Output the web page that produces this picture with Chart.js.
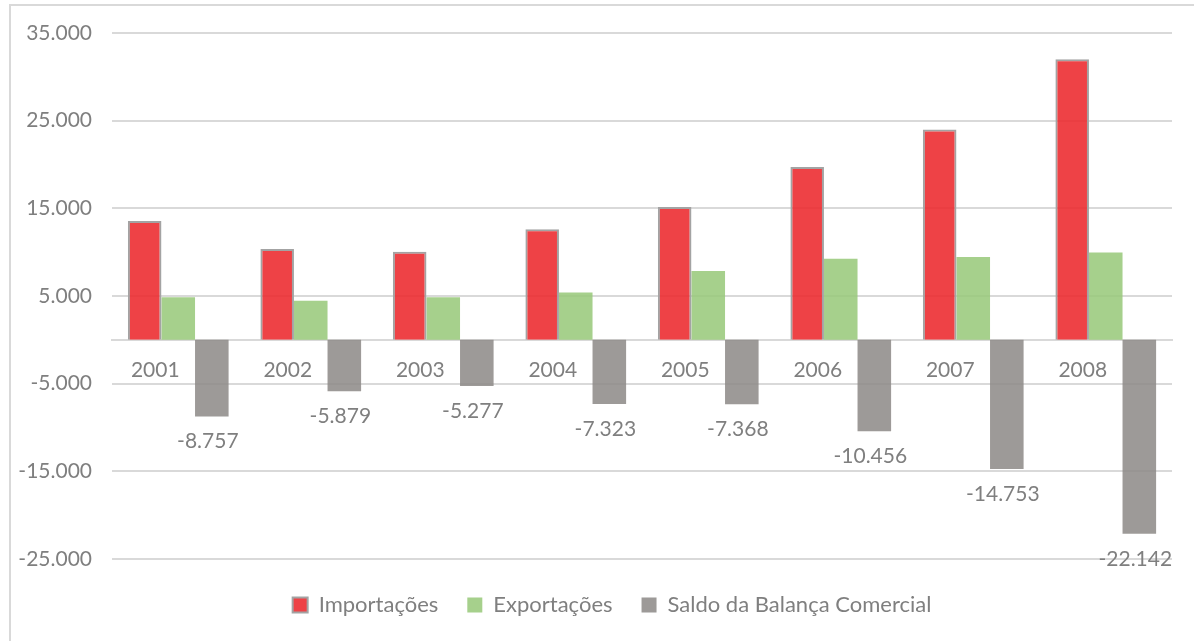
<!DOCTYPE html>
<html>
<head>
<meta charset="utf-8">
<script src="https://cdn.jsdelivr.net/npm/chart.js@4"></script>
<style>
html,body{margin:0;padding:0;background:#fff;}
#wrap{position:relative;width:1194px;height:641px;overflow:hidden;}
#frame{position:absolute;left:9px;top:4px;width:1300px;height:800px;border:2px solid #d9d9d9;box-sizing:border-box;}
#c{position:absolute;left:0;top:0;}
</style>
</head>
<body>
<div id="wrap">
  <div id="frame"></div>
  <canvas id="c" width="1194" height="641"></canvas>
</div>
<script>
var anos = ['2001','2002','2003','2004','2005','2006','2007','2008'];
var importacoes = [13550, 10350, 10050, 12600, 15150, 19700, 24000, 32000];
var exportacoes = [4850, 4450, 4850, 5400, 7850, 9250, 9450, 9950];
var saldo = [-8757, -5879, -5277, -7323, -7368, -10456, -14753, -22142];
var yTicks = [-25000, -15000, -5000, 5000, 15000, 25000, 35000];

var FONT = 'Lato, "Open Sans", sans-serif';
var TXT = '#7f7f7f';

function fmt(v){
    var neg = v < 0;
    var s = String(Math.abs(Math.round(v)));
    s = s.replace(/\B(?=(\d{3})+(?!\d))/g, '.');
    return (neg ? '-' : '') + s;
}

// rotulos do saldo abaixo das barras
var saldoLabels = {
    id: 'saldoLabels',
    afterDatasetsDraw: function(chart){
        var meta = chart.getDatasetMeta(2);
        var ctx = chart.ctx;
        ctx.save();
        ctx.font = '21px ' + FONT;
        ctx.fillStyle = TXT;
        ctx.textAlign = 'center';
        ctx.textBaseline = 'middle';
        for (var i = 0; i < meta.data.length; i++) {
            var el = meta.data[i];
            ctx.fillText(fmt(saldo[i]), el.x - 4, el.y + 25);
        }
        ctx.restore();
    }
};

// legenda centrada no quadro todo, nao so na area do grafico
var legendShift = {
    id: 'legendShift',
    afterLayout: function(chart){
        if (chart.legend) { chart.legend.left += 26; chart.legend.right += 26; }
    }
};

new Chart(document.getElementById('c'), {
    type: 'bar',
    data: {
        labels: anos,
        datasets: [{
            label: 'Importações',
            data: importacoes,
            backgroundColor: 'rgba(236,40,44,0.88)',
            borderColor: '#a3a3a3',
            borderWidth: 2,
            borderSkipped: 'bottom'
        }, {
            label: 'Exportações',
            data: exportacoes,
            backgroundColor: 'rgba(150,200,120,0.85)',
            borderWidth: 0
        }, {
            label: 'Saldo da Balança Comercial',
            data: saldo,
            backgroundColor: 'rgba(140,136,134,0.85)',
            borderWidth: 0
        }]
    },
    options: {
        responsive: false,
        animation: false,
        layout: { padding: { left: 0, right: 22, top: 33, bottom: 15 } },
        datasets: { bar: { categoryPercentage: 0.76, barPercentage: 1.0 } },
        plugins: {
            legend: {
                position: 'bottom',
                title: { display: true, text: ' ', font: { size: 1 }, padding: { top: 1, bottom: 4 } },
                labels: {
                    boxWidth: 15,
                    boxHeight: 15,
                    padding: 29,
                    color: TXT,
                    font: { family: FONT, size: 22 }
                }
            },
            tooltip: { enabled: false }
        },
        scales: {
            x: {
                position: { y: 0 },
                grid: { display: false, drawTicks: false },
                border: { display: true, color: '#d9d9d9', width: 2 },
                ticks: {
                    color: TXT,
                    font: { family: FONT, size: 21 },
                    padding: 18,
                    labelOffset: -23,
                    maxRotation: 0
                }
            },
            y: {
                min: -25000,
                max: 35000,
                afterBuildTicks: function(scale){
                    scale.ticks = yTicks.map(function(v){ return { value: v }; });
                },
                afterFit: function(scale){ scale.width = 112; },
                grid: { color: '#d9d9d9', lineWidth: 2, drawTicks: false },
                border: { display: false },
                ticks: {
                    color: TXT,
                    font: { family: FONT, size: 21 },
                    padding: 20,
                    callback: function(v){ return fmt(v); }
                }
            }
        }
    },
    plugins: [saldoLabels, legendShift]
});
</script>
</body>
</html>
